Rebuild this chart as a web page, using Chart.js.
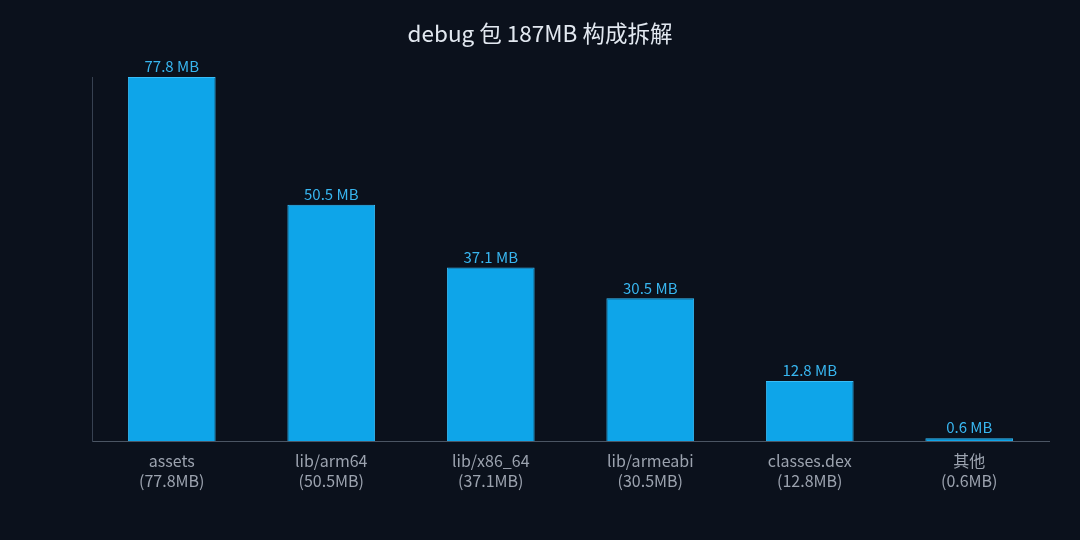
<!DOCTYPE html>
<html>
<head>
<meta charset="utf-8">
<script src="https://cdn.jsdelivr.net/npm/chart.js@4.4.1/dist/chart.umd.min.js"></script>
<style>
  html, body { margin: 0; padding: 0; background: #0b111c; }
  #wrap { width: 1080px; height: 540px; }
</style>
</head>
<body>
<div id="wrap"><canvas id="sizeChart"></canvas></div>
<script>
// debug package composition, MB
const categories = ['assets', 'lib/arm64', 'lib/x86_64', 'lib/armeabi', 'classes.dex', '其他'];
const sizeLabels = ['(77.8MB)', '(50.5MB)', '(37.1MB)', '(30.5MB)', '(12.8MB)', '(0.6MB)'];
const sizesMB = [77.8, 50.5, 37.1, 30.5, 12.8, 0.6];
const chartTitle = 'debug 包 187MB 构成拆解';

const FONT = '"Noto Sans CJK SC", "Noto Sans", sans-serif';

// title centred on the whole canvas + value labels above each bar
const overlay = {
  id: 'overlay',
  afterDatasetsDraw(chart) {
    const ctx = chart.ctx;
    const meta = chart.getDatasetMeta(0);
    ctx.save();
    ctx.fillStyle = '#e2e8f0';
    ctx.font = '22.5px ' + FONT;
    ctx.textAlign = 'center';
    ctx.textBaseline = 'middle';
    ctx.fillText(chartTitle, chart.width / 2, 33);

    ctx.fillStyle = '#38b6f0';
    ctx.font = '15px ' + FONT;
    ctx.textBaseline = 'bottom';
    meta.data.forEach((bar, i) => {
      ctx.fillText(sizesMB[i].toFixed(1) + ' MB', bar.x, bar.y - 3);
    });
    ctx.restore();
  }
};

new Chart(document.getElementById('sizeChart'), {
  type: 'bar',
  data: {
    labels: categories.map((c, i) => [c, sizeLabels[i]]),
    datasets: [{
      data: sizesMB,
      backgroundColor: '#0ea5e9',
      borderColor: '#38bdf8',
      borderWidth: 1,
      barPercentage: 0.55,
      categoryPercentage: 1
    }]
  },
  options: {
    responsive: true,
    maintainAspectRatio: false,
    animation: false,
    layout: { padding: { left: 84, right: 31, top: 77, bottom: 47 } },
    plugins: {
      legend: { display: false },
      tooltip: { enabled: false },
      title: { display: false }
    },
    scales: {
      x: {
        grid: { display: false },
        border: { display: true, color: '#4b5563', width: 1 },
        ticks: {
          color: '#9ca3af',
          font: { family: FONT, size: 16, lineHeight: 1.25 },
          padding: 2
        }
      },
      y: {
        min: 0,
        max: 77.8,
        grid: { display: false },
        border: { display: true, color: '#374151', width: 1 },
        ticks: { display: false }
      }
    }
  },
  plugins: [overlay]
});
</script>
</body>
</html>
